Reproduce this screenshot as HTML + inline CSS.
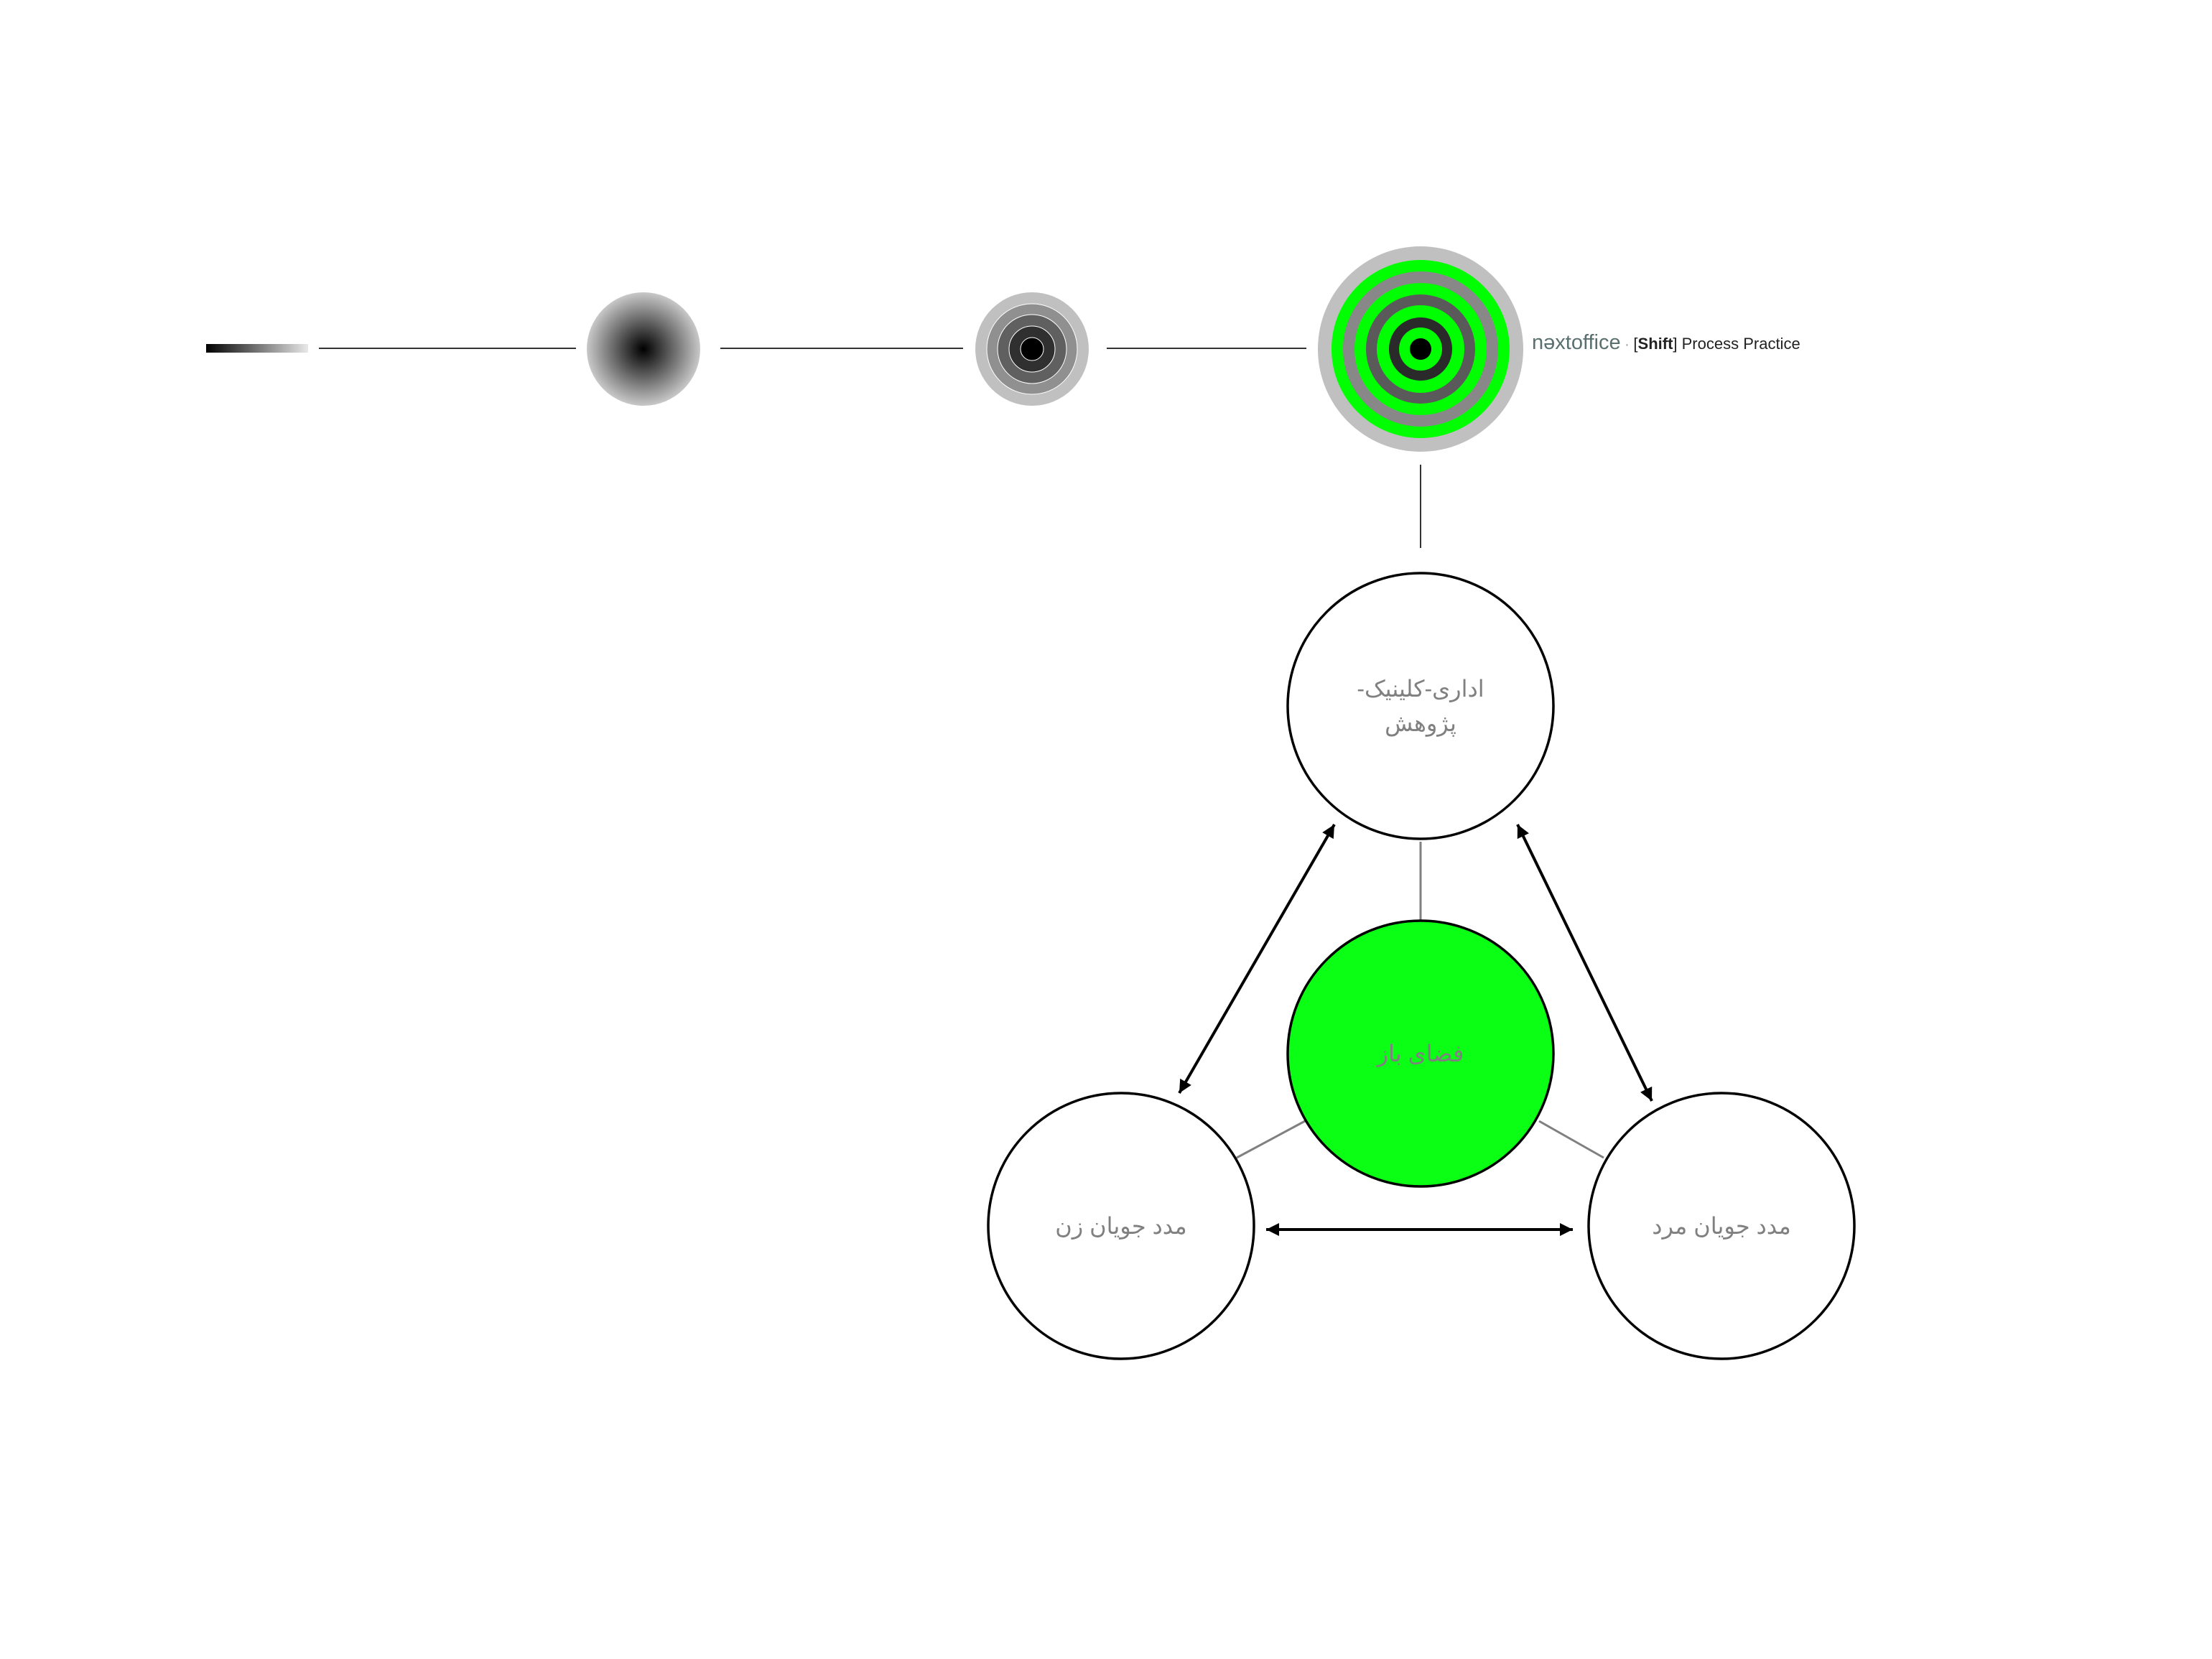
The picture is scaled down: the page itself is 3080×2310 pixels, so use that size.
<!DOCTYPE html>
<html><head><meta charset="utf-8"><style>html,body{margin:0;padding:0;background:#fff}svg{display:block}</style></head>
<body>
<svg width="3080" height="2310" viewBox="0 0 3080 2310" xmlns="http://www.w3.org/2000/svg">
<defs>
<linearGradient id="bar" x1="0" x2="1" y1="0" y2="0"><stop offset="0" stop-color="#000"/><stop offset="1" stop-color="#e8e8e8"/></linearGradient>
<radialGradient id="rg"><stop offset="0" stop-color="#000"/><stop offset="1" stop-color="#c8c8c8"/></radialGradient>
<marker id="ah" viewBox="0 0 10 10" refX="10" refY="5" markerWidth="20" markerHeight="18" orient="auto-start-reverse" markerUnits="userSpaceOnUse"><path d="M0,0 L10,5 L0,10 z" fill="#000"/></marker>
</defs>
<rect x="287" y="479" width="142" height="12" fill="url(#bar)"/>
<g stroke="#333" stroke-width="2">
<line x1="444" y1="485" x2="802" y2="485"/>
<line x1="1003" y1="485" x2="1341" y2="485"/>
<line x1="1541" y1="485" x2="1819" y2="485"/>
<line x1="1978" y1="647" x2="1978" y2="763"/>
</g>
<circle cx="896" cy="486" r="79" fill="url(#rg)"/>
<g stroke="#fff" stroke-width="1">
<circle cx="1437" cy="486" r="79" fill="#c0c0c0" stroke="none"/>
<circle cx="1437" cy="486" r="63" fill="#909090"/>
<circle cx="1437" cy="486" r="48" fill="#606060"/>
<circle cx="1437" cy="486" r="32" fill="#303030"/>
<circle cx="1437" cy="486" r="16" fill="#000"/>
</g>
<circle cx="1978" cy="486" r="143" fill="#c0c0c0"/>
<circle cx="1978" cy="486" r="124" fill="#00ff00"/>
<circle cx="1978" cy="486" r="108" fill="#888"/>
<circle cx="1978" cy="486" r="92" fill="#00ff00"/>
<circle cx="1978" cy="486" r="76" fill="#5a5a5a"/>
<circle cx="1978" cy="486" r="61" fill="#00ff00"/>
<circle cx="1978" cy="486" r="44" fill="#2a2a2a"/>
<circle cx="1978" cy="486" r="30" fill="#00ff00"/>
<circle cx="1978" cy="486" r="15" fill="#000"/>
<text x="2133" y="486" font-family="Liberation Sans, sans-serif" font-size="29" fill="#5a7070">nəxtoffice<tspan fill="#999" font-size="20"> · </tspan><tspan fill="#222" font-size="22">[<tspan font-weight="bold">Shift</tspan>] Process Practice</tspan></text>

<g stroke="#808080" stroke-width="3">
<line x1="1978" y1="1172" x2="1978" y2="1282"/>
<line x1="1722" y1="1612" x2="1817" y2="1561"/>
<line x1="2143" y1="1561" x2="2233" y2="1612"/>
</g>
<g stroke="#000" stroke-width="3.5" fill="#fff">
<circle cx="1978" cy="983" r="185"/>
<circle cx="1561" cy="1707" r="185"/>
<circle cx="2397" cy="1707" r="185"/>
<circle cx="1978" cy="1467" r="185" fill="#0aff14"/>
</g>
<g stroke="#000" stroke-width="4" marker-start="url(#ah)" marker-end="url(#ah)">
<line x1="1858" y1="1148" x2="1642" y2="1522"/>
<line x1="2113" y1="1148" x2="2300" y2="1533"/>
<line x1="1763" y1="1712" x2="2190" y2="1712"/>
</g>
<g font-family="Liberation Sans, 'DejaVu Sans', 'Noto Sans CJK SC', sans-serif" font-size="32" fill="#808080" text-anchor="middle" direction="rtl">
<text x="1978" y="970">اداری-کلینیک-</text>
<text x="1978" y="1018">پژوهش</text>
<text x="1978" y="1478">فضای باز</text>
<text x="1561" y="1718">مدد جویان زن</text>
<text x="2397" y="1718">مدد جویان مرد</text>
</g>
</svg>
</body></html>
